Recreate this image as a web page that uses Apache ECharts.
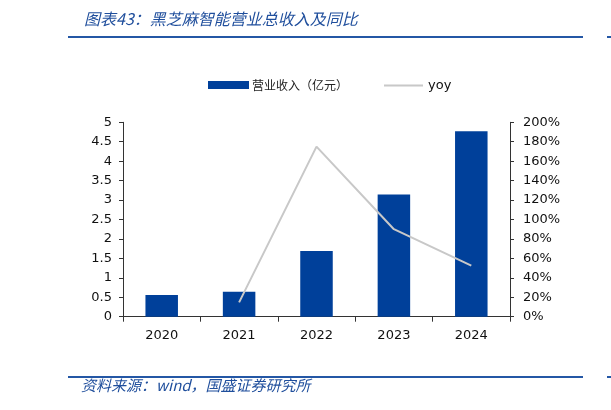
<!DOCTYPE html>
<html>
<head>
<meta charset="utf-8">
<script src="https://cdn.jsdelivr.net/npm/echarts@6/dist/echarts.min.js"></script>
<style>
html,body{margin:0;padding:0;background:#fff;}
#chart{width:611px;height:410px;}
</style>
</head>
<body>
<div id="chart"></div>
<script>
var categories = ['2020', '2021', '2022', '2023', '2024'];
var revenue = [0.56, 0.64, 1.69, 3.14, 4.77];
var yoy = [null, 14.7, 175, 90, 52.5];
var leftTicks = {min: 0, max: 5, interval: 0.5};
var rightTicks = {min: 0, max: 200, interval: 20};
var titleText = '图表43：黑芝麻智能营业总收入及同比';
var sourceText = '资料来源：wind，国盛证券研究所';
var revName = '营业收入（亿元）';
var yoyName = 'yoy';

var blue = '#00409a';
var gray = '#c8c8c8';
var headBlue = '#2457a5';
var labelFont = 'DejaVu Sans';
var cjk = '"Noto Sans CJK SC"';

var chart = echarts.init(document.getElementById('chart'), null, {renderer: 'canvas'});
chart.setOption({
  animation: false,
  backgroundColor: '#fff',
  title: {
    text: titleText,
    left: 79, top: 6,
    textStyle: {fontFamily: cjk, fontSize: 16, fontStyle: 'italic', fontWeight: 'normal', color: '#1f4e9c'}
  },
  graphic: [
    {type: 'line', shape: {x1: 68, y1: 37, x2: 583, y2: 37}, style: {stroke: headBlue, lineWidth: 2}},
    {type: 'line', shape: {x1: 607, y1: 37, x2: 611, y2: 37}, style: {stroke: headBlue, lineWidth: 2}},
    {type: 'line', shape: {x1: 68, y1: 377, x2: 583, y2: 377}, style: {stroke: headBlue, lineWidth: 2}},
    {type: 'line', shape: {x1: 607, y1: 377, x2: 611, y2: 377}, style: {stroke: headBlue, lineWidth: 2}},
    {type: 'text', left: 81, top: 378, style: {text: sourceText, font: 'italic 15px ' + cjk, fill: '#1f4e9c'}}
  ],
  legend: [
    {
      data: [revName], left: 208, top: 79, padding: 0, itemWidth: 41, itemHeight: 8, itemGap: 0,
      icon: 'rect',
      textStyle: {fontFamily: cjk, fontSize: 12, color: '#222', padding: [0, 0, 0, -2]}
    },
    {
      data: [yoyName], left: 384, top: 79, padding: 0, itemWidth: 39, itemHeight: 2, itemGap: 0,
      icon: 'rect',
      textStyle: {fontFamily: labelFont, fontSize: 13, color: '#111'}
    }
  ],
  grid: {left: 123, right: 101, top: 122.3, bottom: 93.3, containLabel: false},
  xAxis: {
    type: 'category',
    data: categories,
    boundaryGap: true,
    axisLine: {lineStyle: {color: '#333', width: 1}},
    axisTick: {show: true, length: 5, alignWithLabel: false, lineStyle: {color: '#333'}},
    axisLabel: {margin: 12, fontFamily: labelFont, fontSize: 13, color: '#111'},
    splitLine: {show: false}
  },
  yAxis: [
    {
      type: 'value', position: 'left',
      min: leftTicks.min, max: leftTicks.max, interval: leftTicks.interval,
      axisLine: {show: true, lineStyle: {color: '#333'}},
      axisTick: {show: true, length: 4, lineStyle: {color: '#333'}},
      axisLabel: {margin: 11, fontFamily: labelFont, fontSize: 13, color: '#111'},
      splitLine: {show: false}
    },
    {
      type: 'value', position: 'right',
      min: rightTicks.min, max: rightTicks.max, interval: rightTicks.interval,
      axisLine: {show: true, lineStyle: {color: '#333'}},
      axisTick: {show: true, length: 4, lineStyle: {color: '#333'}},
      axisLabel: {margin: 13, fontFamily: labelFont, fontSize: 13, color: '#111', formatter: '{value}%'},
      splitLine: {show: false}
    }
  ],
  series: [
    {
      name: revName, type: 'bar', yAxisIndex: 0,
      data: revenue, barWidth: '42%',
      itemStyle: {color: blue}
    },
    {
      name: yoyName, type: 'line', yAxisIndex: 1,
      data: yoy, symbol: 'none', connectNulls: false,
      lineStyle: {color: gray, width: 2},
      itemStyle: {color: gray}
    }
  ]
});
</script>
</body>
</html>
